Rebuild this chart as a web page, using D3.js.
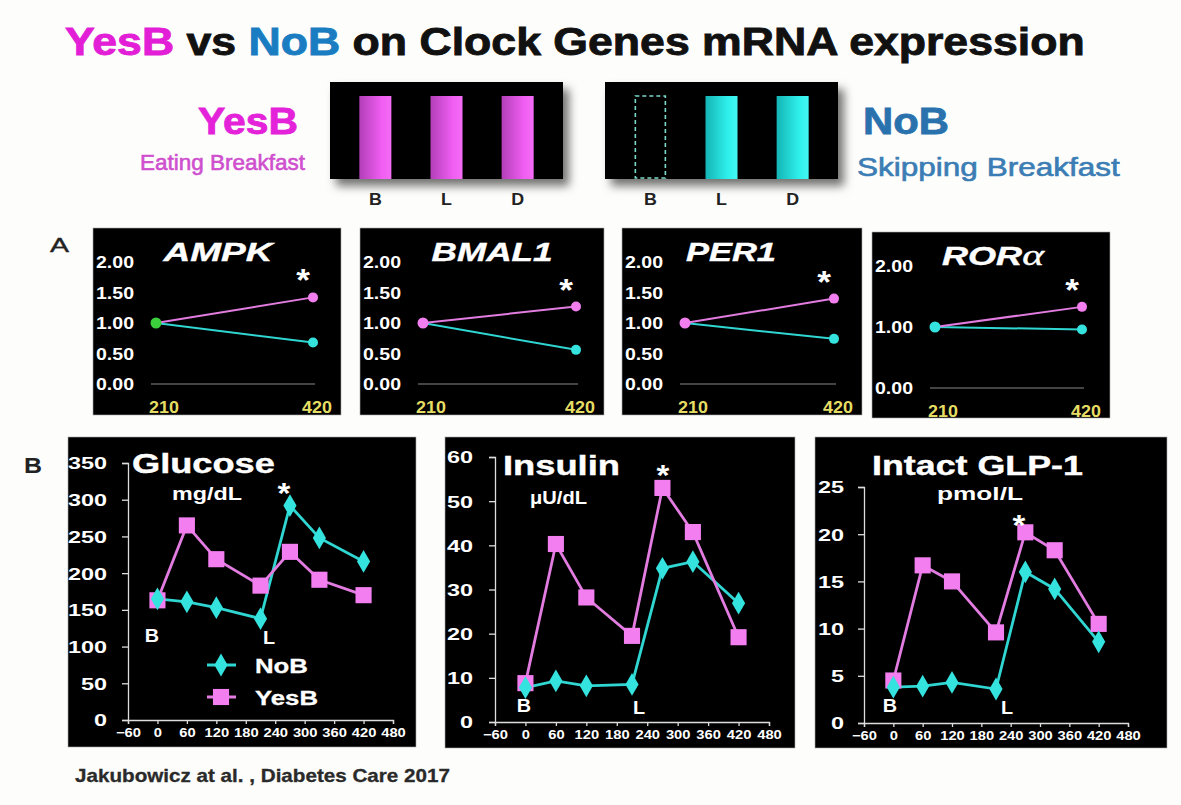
<!DOCTYPE html>
<html><head><meta charset="utf-8">
<script src="https://cdn.jsdelivr.net/npm/d3@7"></script>
<style>
html,body{margin:0;padding:0;background:#fdfdfb;}
svg{display:block;font-family:"Liberation Sans",Arial,sans-serif;}
</style></head>
<body>
<svg id="chart" width="1181" height="805"></svg>
<script>
// ---------------- DATA ----------------
const meals = ["B", "L", "D"];
const yesBMeals = [1, 1, 1];
const noBMeals = [0, 1, 1];

const genes = ["AMPK", "BMAL1", "PER1", "ROR"];
const geneTimes = [210, 420];
const geneYesB = [[1.0, 1.42], [1.0, 1.27], [1.0, 1.40], [1.0, 1.33]];
const geneNoB = [[1.0, 0.68], [1.0, 0.56], [1.0, 0.74], [1.0, 0.96]];
const geneTicks = [[0, 0.5, 1, 1.5, 2], [0, 0.5, 1, 1.5, 2], [0, 0.5, 1, 1.5, 2], [0, 1, 2]];

const timePoints = [0, 60, 120, 210, 270, 330, 420];
const timeTicks = [-60, 0, 60, 120, 180, 240, 300, 360, 420, 480];
const glucoseYesB = [163, 265, 219, 183, 229, 191, 170];
const glucoseNoB = [165, 161, 153, 138, 292, 248, 216];
const glucoseTicks = [0, 50, 100, 150, 200, 250, 300, 350];
const insulinYesB = [8.8, 40.3, 28.2, 19.5, 53.0, 43.0, 19.2];
const insulinNoB = [7.8, 9.3, 8.2, 8.5, 34.8, 36.3, 26.9];
const insulinTicks = [0, 10, 20, 30, 40, 50, 60];
const glp1YesB = [4.5, 16.7, 15.0, 9.6, 20.2, 18.3, 10.5];
const glp1NoB = [3.8, 3.9, 4.3, 3.6, 16.0, 14.2, 8.6];
const glp1Ticks = [0, 5, 10, 15, 20, 25];

// ---------------- STYLE ----------------
const PINK_LINE = "#e27ce0", PINK_MARK = "#f27ef0";
const CYAN_LINE = "#2fd6d2", CYAN_MARK = "#34e2de";
const svg = d3.select("#chart");

const defs = svg.append("defs");
const sh = defs.append("filter").attr("id", "shadow").attr("x", "-10%").attr("y", "-10%").attr("width", "130%").attr("height", "140%");
sh.append("feDropShadow").attr("dx", 6).attr("dy", 7).attr("stdDeviation", 5).attr("flood-color", "#000").attr("flood-opacity", 0.55);
const gp = defs.append("linearGradient").attr("id", "gpink");
gp.append("stop").attr("offset", "0%").attr("stop-color", "#b23fb8");
gp.append("stop").attr("offset", "70%").attr("stop-color", "#f05ef2");
gp.append("stop").attr("offset", "100%").attr("stop-color", "#f46cf4");
const gc = defs.append("linearGradient").attr("id", "gcyan");
gc.append("stop").attr("offset", "0%").attr("stop-color", "#14b4b4");
gc.append("stop").attr("offset", "70%").attr("stop-color", "#2ff0ec");
gc.append("stop").attr("offset", "100%").attr("stop-color", "#44f6f2");

// text helper: o.w = target width (horizontal fit), o.sx = fixed horizontal stretch
function txt(parent, x, y, str, o = {}) {
  const t = parent.append("text")
    .attr("text-anchor", o.anchor || "start")
    .attr("font-size", o.size || 16)
    .attr("font-weight", o.weight || "bold")
    .attr("font-style", o.style || "normal")
    .attr("fill", o.fill || "#111")
    .text(str);
  if (o.family) t.attr("font-family", o.family);
  if (o.stroke) t.attr("stroke", o.fill).attr("stroke-width", o.stroke).attr("paint-order", "stroke");
  if (o.extra) o.extra(t);
  let s = o.sx || 1;
  if (o.w) { const len = t.node().getComputedTextLength(); if (len > 0) s = o.w / len; }
  t.attr("transform", `translate(${x},${y}) scale(${s},1)`);
  return t;
}

// ---------------- TITLE ----------------
txt(svg, 65, 55, "", {size: 39, w: 1020, stroke: 0.9, fill: "#111", extra: t => {
  t.append("tspan").attr("fill", "#e21ed6").attr("stroke", "#e21ed6").text("YesB");
  t.append("tspan").text(" vs ");
  t.append("tspan").attr("fill", "#1a7dc2").attr("stroke", "#1a7dc2").text("NoB");
  t.append("tspan").text(" on Clock Genes mRNA expression");
}});

// ---------------- MEAL SCHEMES ----------------
txt(svg, 298, 134, "YesB", {size: 37, fill: "#e322d9", anchor: "end", w: 100, stroke: 0.8});
txt(svg, 305, 170, "Eating Breakfast", {size: 22, weight: "normal", fill: "#cf4fcf", anchor: "end", w: 165, stroke: 0.6});
txt(svg, 863, 134, "NoB", {size: 37, fill: "#2a72ae", w: 86, stroke: 0.8});
txt(svg, 857, 176, "Skipping Breakfast", {size: 25, weight: "normal", fill: "#3b7db4", w: 263, stroke: 0.6});

function mealBox(x0, flags, grad, dashColor) {
  const g = svg.append("g");
  const w = 233, top = 82, h = 97;
  g.append("rect").attr("x", x0).attr("y", top).attr("width", w).attr("height", h).attr("fill", "#000").attr("filter", "url(#shadow)");
  const xb = d3.scaleBand().domain(meals).range([x0 + 8, x0 + w - 8]).paddingInner(0.55).paddingOuter(0.3);
  meals.forEach((m, i) => {
    if (flags[i]) {
      g.append("rect").attr("x", xb(m)).attr("y", top + 14).attr("width", xb.bandwidth()).attr("height", h - 14).attr("fill", `url(#${grad})`);
    } else {
      g.append("rect").attr("x", xb(m) + 1).attr("y", top + 14).attr("width", xb.bandwidth() - 2).attr("height", h - 15)
        .attr("fill", "none").attr("stroke", dashColor).attr("stroke-width", 1.6).attr("stroke-dasharray", "4,3");
    }
    txt(g, xb(m) + xb.bandwidth() / 2, 205, m, {size: 17, anchor: "middle", fill: "#222", sx: 1.05});
  });
}
mealBox(330, yesBMeals, "gpink", "#7cd8c8");
mealBox(605, noBMeals, "gcyan", "#7cd8c8");

// ---------------- PANEL A ----------------
txt(svg, 50, 252, "A", {size: 21, weight: "normal", fill: "#222", w: 19, stroke: 0.4});
const genePanels = [
  {x: 93, y: 228, w: 248, h: 187, start: "#3ccf3c", tc: 218, tw: 109},
  {x: 360, y: 228, w: 244, h: 187, start: PINK_MARK, tc: 492, tw: 121},
  {x: 622, y: 228, w: 240, h: 187, start: PINK_MARK, tc: 731, tw: 90},
  {x: 872, y: 232, w: 238, h: 186, start: CYAN_MARK, tc: 993, tw: 102}
];
genes.forEach((gname, i) => {
  const p = genePanels[i];
  const g = svg.append("g");
  g.append("rect").attr("x", p.x).attr("y", p.y).attr("width", p.w).attr("height", p.h).attr("fill", "#000").attr("stroke", "#aaa").attr("stroke-width", 0.6);
  const x = d3.scaleLinear().domain(geneTimes).range([p.x + 63, p.x + p.w - 28]);
  const y = d3.scaleLinear().domain([0, 2]).range([p.y + 156, p.y + 34]);
  g.append("line").attr("x1", p.x + 58).attr("x2", p.x + p.w - 26).attr("y1", y(0)).attr("y2", y(0)).attr("stroke", "#888").attr("stroke-width", 1);
  geneTicks[i].forEach(v => txt(g, p.x + 3, y(v) + 6, d3.format(".2f")(v), {size: 17, fill: "#fff", sx: 1.15}));
  geneTimes.forEach((t, j) => txt(g, x(t) + (j === 0 ? 8 : 4), p.y + 185, String(t), {size: 16, fill: "#e6de64", anchor: "middle", sx: 1.12}));
  txt(g, p.tc, p.y + 33, gname, {size: 26, fill: "#fff", style: "italic", anchor: "middle", w: p.tw, stroke: 0.4,
    extra: t => { if (gname === "ROR") t.append("tspan").attr("font-family", "'Liberation Serif','DejaVu Serif',serif").attr("font-weight", "normal").attr("font-size", 30).text("α"); }});
  const line = d3.line().x((d, k) => x(geneTimes[k])).y(d => y(d));
  [[geneNoB[i], CYAN_LINE, CYAN_MARK], [geneYesB[i], PINK_LINE, PINK_MARK]].forEach(([vals, lc, mc]) => {
    g.append("path").attr("d", line(vals)).attr("fill", "none").attr("stroke", lc).attr("stroke-width", 2);
    g.append("circle").attr("cx", x(geneTimes[1])).attr("cy", y(vals[1])).attr("r", 5).attr("fill", mc);
  });
  g.append("circle").attr("cx", x(geneTimes[0])).attr("cy", y(1)).attr("r", 5.5).attr("fill", p.start);
  txt(g, x(geneTimes[1]) - 10, y(geneYesB[i][1]) - 6, "*", {size: 32, fill: "#fff", anchor: "middle", sx: 1.1});
});

// ---------------- PANEL B ----------------
txt(svg, 24, 473, "B", {size: 22, fill: "#222", w: 18});
const diamond = d3.symbol().type(d3.symbolDiamond).size(150);
const square = d3.symbol().type(d3.symbolSquare).size(260);

function timePanel(o) {
  const g = svg.append("g");
  g.append("rect").attr("x", o.box[0]).attr("y", o.box[1]).attr("width", o.box[2]).attr("height", o.box[3]).attr("fill", "#000").attr("stroke", "#aaa").attr("stroke-width", 0.6);
  const x = d3.scaleLinear().domain([-60, 480]).range(o.xr);
  const y = d3.scaleLinear().domain([0, o.ticks[o.ticks.length - 1]]).range(o.yr);
  const ya = g.append("g").attr("transform", `translate(${o.xr[0]},0)`)
    .call(d3.axisLeft(y).tickValues(o.ticks).tickSize(6));
  const xa = g.append("g").attr("transform", `translate(0,${o.yr[0]})`)
    .call(d3.axisBottom(x).tickValues(timeTicks).tickSize(4).tickPadding(4));
  [ya, xa].forEach(a => {
    a.select(".domain").attr("stroke", "#ddd").attr("stroke-width", 1.3);
    a.selectAll(".tick line").attr("stroke", "#ddd").attr("stroke-width", 1.3);
    a.selectAll("text").attr("fill", "#fff").attr("font-weight", "bold").attr("font-family", "'Liberation Sans',Arial,sans-serif");
  });
  ya.selectAll(".tick text").attr("font-size", 16.5).attr("x", null).attr("dy", "0.36em")
    .attr("transform", `translate(${-o.gap},0) scale(1.42,1)`);
  xa.selectAll(".tick text").attr("font-size", 12.5).attr("transform", "scale(1.18,1)");

  const line = d3.line().x((d, k) => x(timePoints[k])).y(d => y(d));
  g.append("path").attr("d", line(o.noB)).attr("fill", "none").attr("stroke", CYAN_LINE).attr("stroke-width", 2.8);
  g.append("path").attr("d", line(o.yesB)).attr("fill", "none").attr("stroke", PINK_LINE).attr("stroke-width", 2.8);
  g.selectAll(".sq").data(o.yesB).join("path").attr("transform", (d, k) => `translate(${x(timePoints[k])},${y(d)})`).attr("d", square).attr("fill", PINK_MARK);
  g.selectAll(".dm").data(o.noB).join("path").attr("transform", (d, k) => `translate(${x(timePoints[k])},${y(d)})`).attr("d", diamond).attr("fill", CYAN_MARK);

  txt(g, o.title[0], o.title[1], o.title[2], {size: 27, fill: "#fff", w: o.title[3], stroke: 0.4});
  txt(g, o.unit[0], o.unit[1], o.unit[2], {size: 18, fill: "#fff", w: o.unit[3]});
  txt(g, o.star[0], o.star[1], "*", {size: 30, fill: "#fff", anchor: "middle", sx: 1.1});
  txt(g, o.bx, o.bl, "B", {size: 18, fill: "#fff", anchor: "middle", sx: 1.1});
  txt(g, o.lx, o.bl + 2, "L", {size: 18, fill: "#fff", anchor: "middle", sx: 1.1});
  return g;
}

const gGlu = timePanel({box: [68, 437, 348, 310], xr: [128, 393], yr: [720, 463], ticks: glucoseTicks, gap: 21,
  yesB: glucoseYesB, noB: glucoseNoB, title: [132, 473, "Glucose", 143], unit: [172, 500, "mg/dL", 70], star: [284, 503],
  bx: 152, lx: 269, bl: 642});
// legend
[["NoB", CYAN_LINE, CYAN_MARK, diamond, 665, 53], ["YesB", PINK_LINE, PINK_MARK, square, 697, 63]].forEach(([lab, lc, mc, sym, ly, lw]) => {
  gGlu.append("line").attr("x1", 207).attr("x2", 236).attr("y1", ly).attr("y2", ly).attr("stroke", lc).attr("stroke-width", 3);
  gGlu.append("path").attr("transform", `translate(221,${ly})`).attr("d", sym).attr("fill", mc);
  txt(gGlu, 255, ly + 8, lab, {size: 21, fill: "#fff", w: lw, stroke: 0.3});
});
timePanel({box: [445, 437, 350, 311], xr: [495, 769], yr: [722, 457], ticks: insulinTicks, gap: 22,
  yesB: insulinYesB, noB: insulinNoB, title: [503, 475, "Insulin", 117], unit: [530, 504, "μU/dL", 57], star: [663, 485],
  bx: 524, lx: 639, bl: 712});
timePanel({box: [815, 437, 352, 311], xr: [864, 1128], yr: [723, 487], ticks: glp1Ticks, gap: 20,
  yesB: glp1YesB, noB: glp1NoB, title: [872, 475, "Intact GLP-1", 211], unit: [937, 500, "pmol/L", 86], star: [1019, 535],
  bx: 890, lx: 1007, bl: 712});

// ---------------- FOOTER ----------------
txt(svg, 75, 782, "Jakubowicz  at  al. , Diabetes Care  2017", {size: 18, fill: "#2a2a2a", w: 375, stroke: 0.3});
</script>
</body></html>
